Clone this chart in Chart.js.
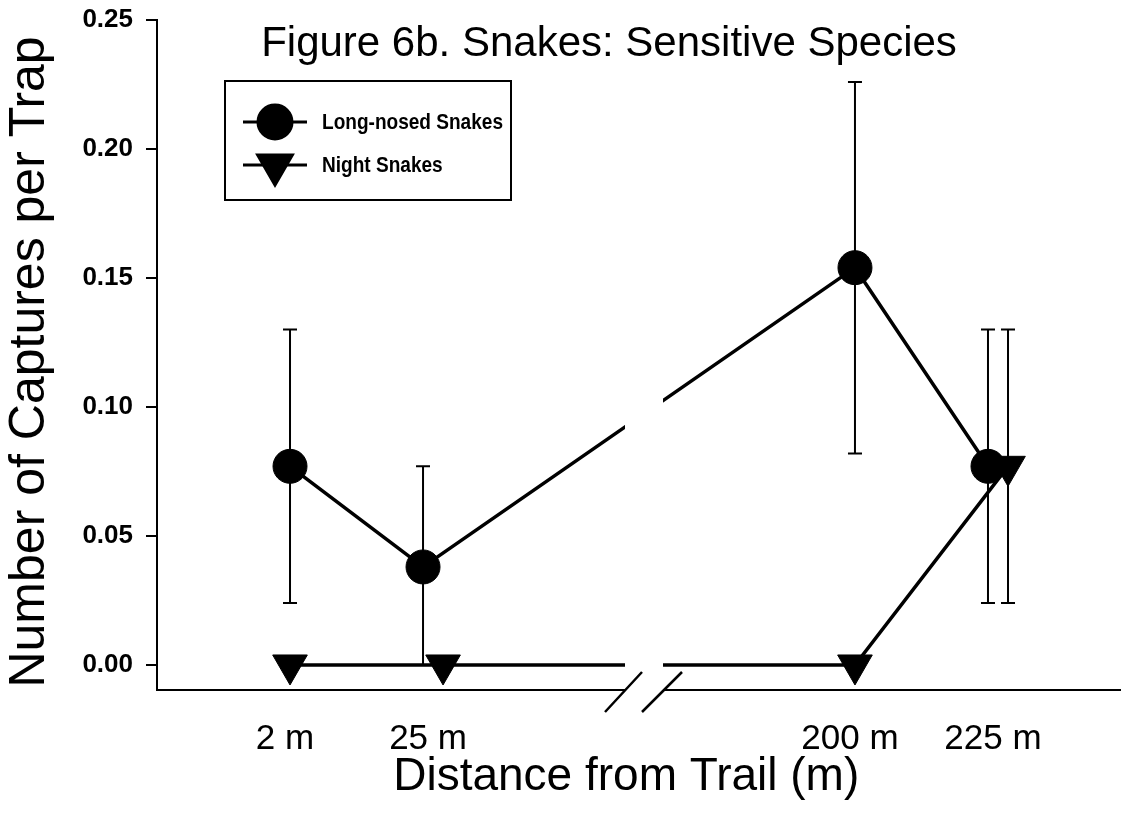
<!DOCTYPE html>
<html lang="en">

<head>
    <meta charset="UTF-8">
    <title>Figure 6b. Snakes: Sensitive Species</title>
    <script src="https://cdn.jsdelivr.net/npm/chart.js"></script>
    <style>
        body { margin: 0; background: #fff; }
    </style>
</head>

<body>
    <canvas id="snakeChart" width="1121" height="825"></canvas>

    <script>
        // distance classes; the axis is broken between 25 m and 200 m
        const distances = ['2 m', '25 m', '200 m', '225 m'];
        const breakGap = 1.95;      // axis units cut out at the break

        // long-nosed snakes: mean captures per trap and error bar ends
        const longNosed = [0.077, 0.038, 0.154, 0.077];
        const longNosedLow = [0.024, 0.000, 0.082, 0.024];
        const longNosedHigh = [0.130, 0.077, 0.226, 0.130];

        // night snakes
        const nightSnakes = [0.000, 0.000, 0.000, 0.077];
        const nightLow = [null, null, null, 0.024];
        const nightHigh = [null, null, null, 0.130];

        // points that were plotted side by side at the same distance
        const sideBySide = [false, true, false, true];

        const yTicks = [0.00, 0.05, 0.10, 0.15, 0.20, 0.25];

        const FONT = '"Liberation Sans", Arial, Helvetica, sans-serif';
        const dodge = 0.07;

        // position of a distance class on the broken axis
        function axisPos(i) {
            return i + (i >= 2 ? breakGap : 0);
        }

        function points(values, side) {
            return values.map((v, i) => ({
                x: axisPos(i) + (sideBySide[i] ? side * dodge : 0),
                y: v
            }));
        }

        // vertical error bars with small caps
        const errorBars = {
            id: 'errorBars',
            beforeDatasetsDraw(chart) {
                const ctx = chart.ctx;
                const y = chart.scales.y;
                chart.data.datasets.forEach((ds, i) => {
                    const meta = chart.getDatasetMeta(i);
                    meta.data.forEach((pt, j) => {
                        const lo = ds.errLow[j], hi = ds.errHigh[j];
                        if (lo == null || hi == null) return;
                        const yl = y.getPixelForValue(lo);
                        const yh = y.getPixelForValue(hi);
                        ctx.save();
                        ctx.strokeStyle = '#000';
                        ctx.lineWidth = 2;
                        ctx.beginPath();
                        ctx.moveTo(pt.x, yl);
                        ctx.lineTo(pt.x, yh);
                        ctx.moveTo(pt.x - 7, yl);
                        ctx.lineTo(pt.x + 7, yl);
                        ctx.moveTo(pt.x - 7, yh);
                        ctx.lineTo(pt.x + 7, yh);
                        ctx.stroke();
                        ctx.restore();
                    });
                });
            }
        };

        // gap and double slash where the x axis is broken
        const axisBreak = {
            id: 'axisBreak',
            afterDatasetsDraw(chart) {
                const ctx = chart.ctx;
                const x = chart.scales.x;
                const area = chart.chartArea;
                const cx = x.getPixelForValue((axisPos(1) + axisPos(2)) / 2);
                const by = area.bottom;
                ctx.save();
                ctx.fillStyle = '#fff';
                ctx.fillRect(cx - 19, area.top, 38, by - area.top + 3);
                ctx.strokeStyle = '#000';
                ctx.lineWidth = 2.5;
                ctx.beginPath();
                ctx.moveTo(cx - 39, by + 22);
                ctx.lineTo(cx - 2, by - 18);
                ctx.moveTo(cx - 2, by + 22);
                ctx.lineTo(cx + 38, by - 18);
                ctx.stroke();
                ctx.restore();
            }
        };

        // title and boxed legend inside the plot area
        const figureText = {
            id: 'figureText',
            afterDraw(chart) {
                const ctx = chart.ctx;
                ctx.save();
                ctx.fillStyle = '#000';
                ctx.textAlign = 'center';
                ctx.textBaseline = 'alphabetic';
                ctx.font = '42px ' + FONT;
                ctx.fillText('Figure 6b. Snakes: Sensitive Species', 609, 56);

                // legend text is a little condensed in the original
                ctx.font = 'bold 22px ' + FONT;
                const widest = Math.max(...chart.data.datasets.map(d => ctx.measureText(d.label).width));
                const squeeze = 181 / widest;
                const left = 225, top = 81, textX = 322;
                ctx.strokeStyle = '#000';
                ctx.lineWidth = 2;
                ctx.strokeRect(left, top, 286, 119);
                chart.data.datasets.forEach((ds, i) => {
                    const ly = 122 + i * 43;
                    ctx.lineWidth = 3;
                    ctx.beginPath();
                    ctx.moveTo(243, ly);
                    ctx.lineTo(307, ly);
                    ctx.stroke();
                    ctx.fillStyle = '#000';
                    Chart.helpers.drawPoint(ctx, {
                        pointStyle: ds.pointStyle,
                        radius: ds.pointRadius,
                        rotation: ds.pointRotation || 0,
                        borderWidth: 1
                    }, 275, ly);
                    ctx.fill();
                    ctx.save();
                    ctx.translate(textX, ly + 1);
                    ctx.scale(squeeze, 1);
                    ctx.textAlign = 'left';
                    ctx.textBaseline = 'middle';
                    ctx.fillText(ds.label, 0, 0);
                    ctx.restore();
                });
                ctx.restore();
            }
        };

        Chart.defaults.color = '#000';
        Chart.defaults.font.family = FONT;

        const ctx = document.getElementById('snakeChart').getContext('2d');
        new Chart(ctx, {
            type: 'line',
            data: {
                datasets: [{
                    label: 'Long-nosed Snakes',
                    data: points(longNosed, -1),
                    errLow: longNosedLow,
                    errHigh: longNosedHigh,
                    borderColor: '#000',
                    backgroundColor: '#000',
                    borderWidth: 3.5,
                    pointStyle: 'circle',
                    pointRadius: 17,
                    pointBorderWidth: 1,
                    pointBackgroundColor: '#000',
                    tension: 0
                }, {
                    label: 'Night Snakes',
                    data: points(nightSnakes, 1),
                    errLow: nightLow,
                    errHigh: nightHigh,
                    borderColor: '#000',
                    backgroundColor: '#000',
                    borderWidth: 3.5,
                    pointStyle: 'triangle',
                    pointRotation: 180,
                    pointRadius: 20,
                    pointBorderWidth: 1,
                    pointBackgroundColor: '#000',
                    tension: 0
                }]
            },
            options: {
                responsive: false,
                animation: false,
                devicePixelRatio: 1,
                layout: {
                    autoPadding: false,
                    padding: { top: 20, right: 0, left: 0, bottom: 0 }
                },
                plugins: {
                    legend: { display: false },
                    tooltip: { enabled: false }
                },
                scales: {
                    x: {
                        type: 'linear',
                        min: -0.93,
                        max: 5.81,
                        afterBuildTicks: scale => {
                            scale.ticks = distances.map((d, i) => ({ value: axisPos(i) }));
                        },
                        afterFit: scale => {
                            scale.height = 135;
                            scale.paddingLeft = 0;
                            scale.paddingRight = 0;
                        },
                        ticks: {
                            autoSkip: false,
                            maxRotation: 0,
                            padding: 20,
                            labelOffset: -5,
                            font: { size: 35 },
                            callback: (value, index) => distances[index]
                        },
                        grid: { display: false },
                        border: { display: true, color: '#000', width: 2 },
                        title: {
                            display: true,
                            text: 'Distance from Trail (m)  ',
                            font: { size: 46 },
                            padding: { top: 0, bottom: 20 }
                        }
                    },
                    y: {
                        min: -0.0097,
                        max: 0.25,
                        afterBuildTicks: scale => {
                            scale.ticks = yTicks.map(v => ({ value: v }));
                        },
                        afterFit: scale => {
                            scale.width = 157;
                            scale.paddingTop = 0;
                            scale.paddingBottom = 0;
                        },
                        ticks: {
                            padding: 13,
                            font: { size: 26, weight: 'bold' },
                            callback: value => value.toFixed(2)
                        },
                        grid: {
                            drawOnChartArea: false,
                            color: '#000',
                            lineWidth: 2,
                            tickLength: 11
                        },
                        border: { display: true, color: '#000', width: 2 },
                        title: {
                            display: true,
                            text: 'Number of Captures per Trap ',
                            font: { size: 50 },
                            padding: { top: 0, bottom: 0 }
                        }
                    }
                }
            },
            plugins: [errorBars, axisBreak, figureText]
        });
    </script>
</body>

</html>
